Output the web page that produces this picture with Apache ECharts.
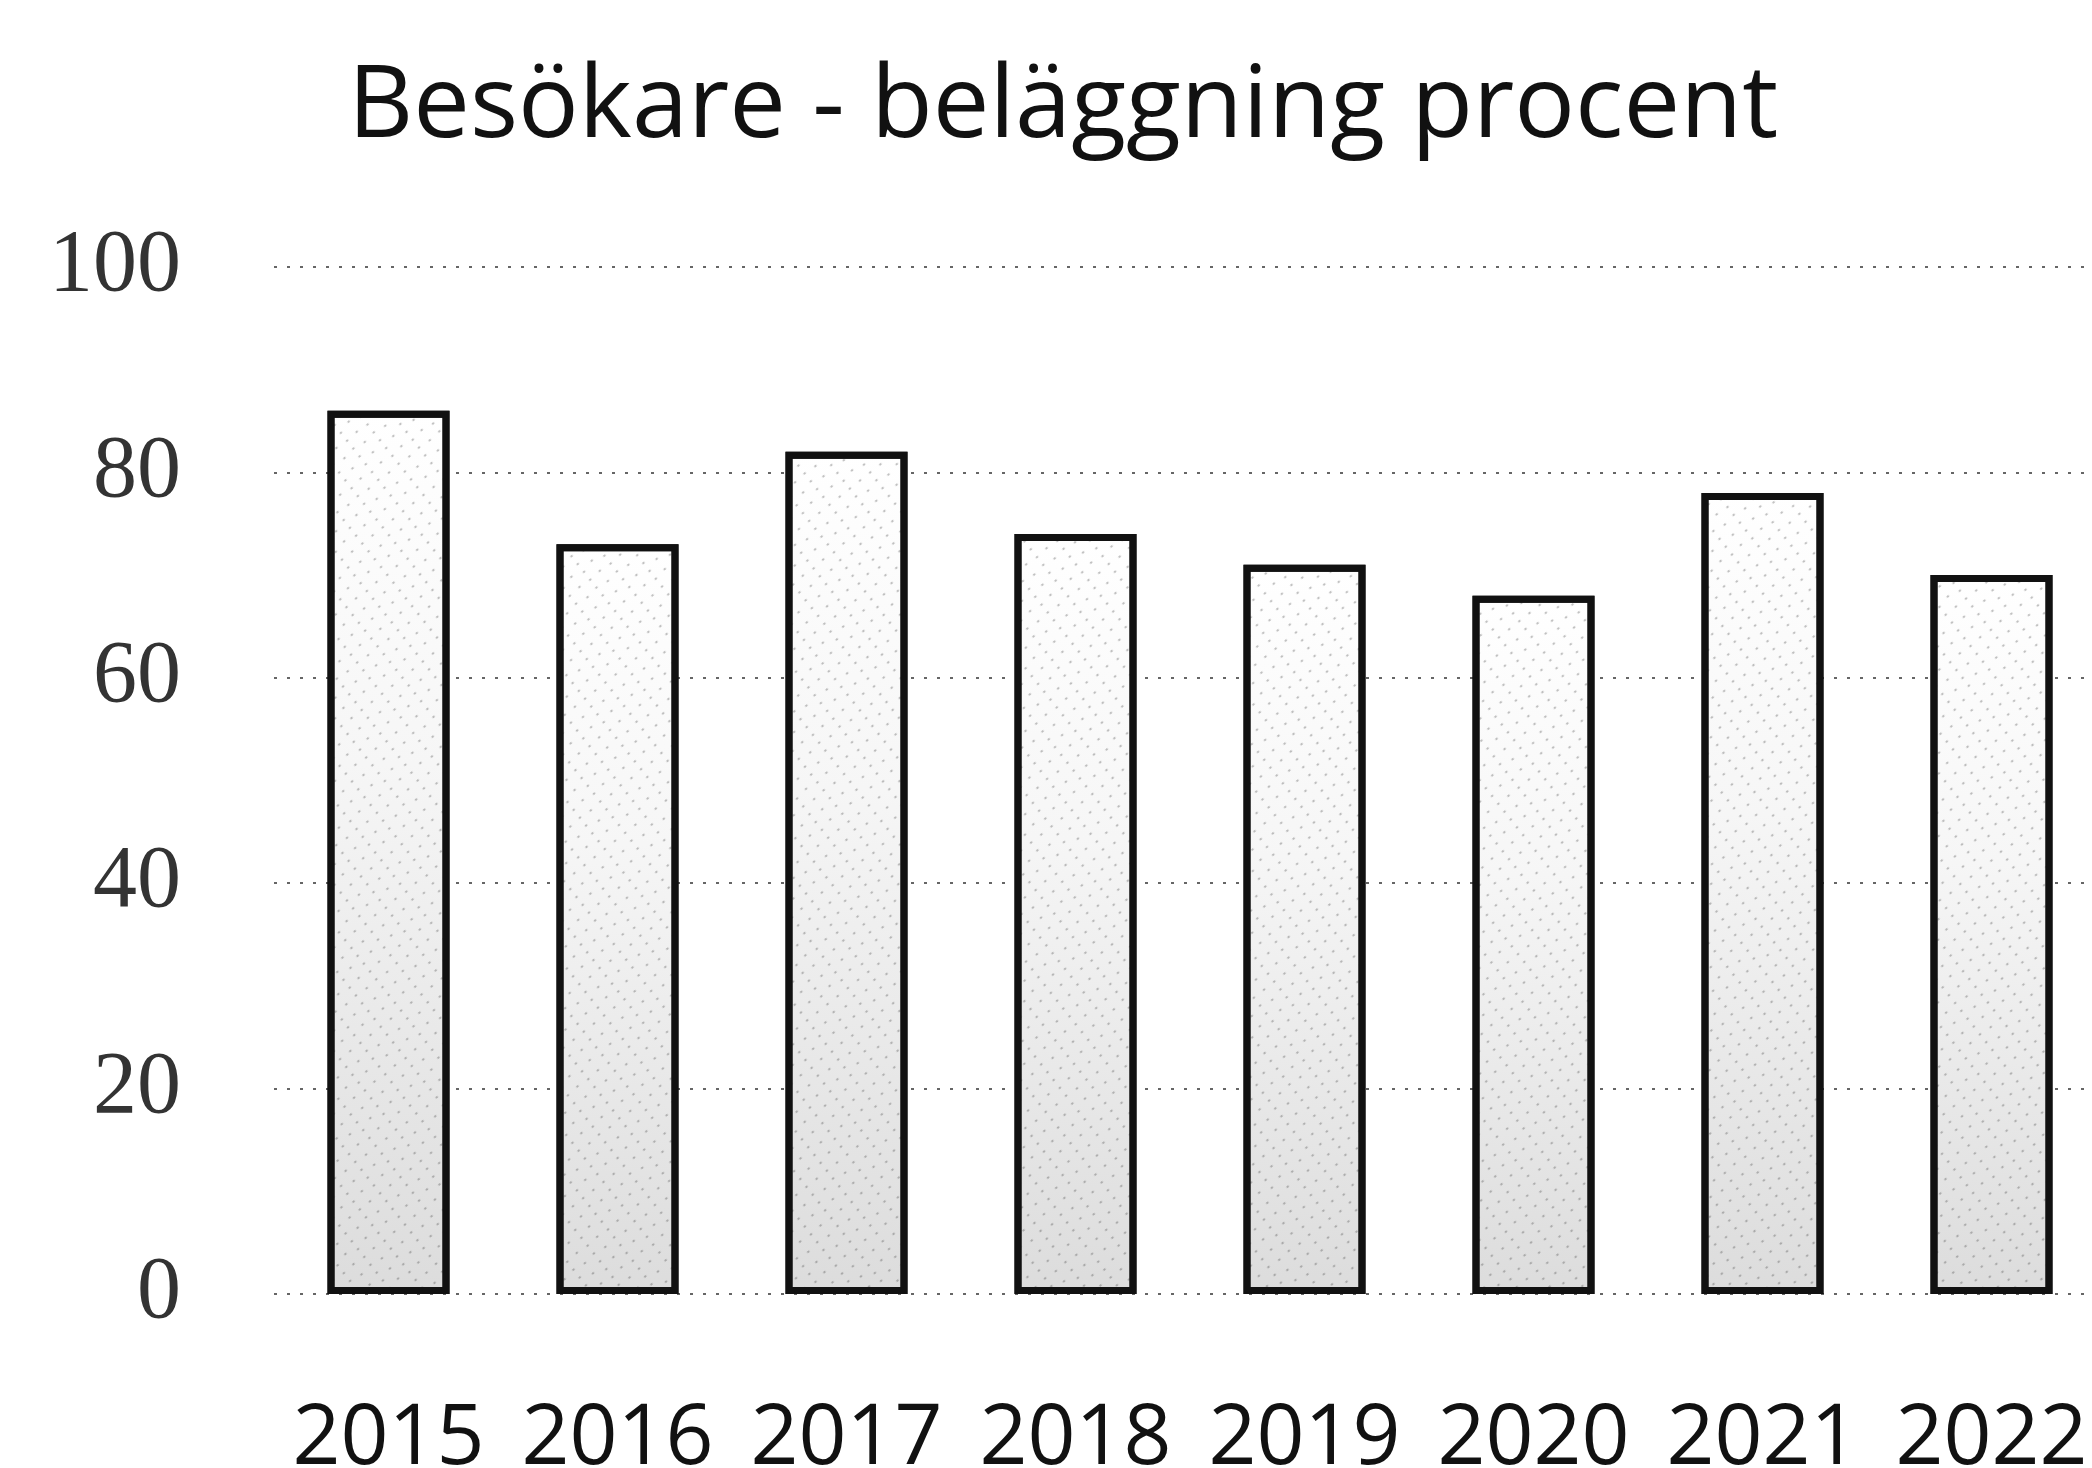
<!DOCTYPE html>
<html>
<head>
<meta charset="utf-8">
<script src="https://cdn.jsdelivr.net/npm/echarts@6/dist/echarts.min.js"></script>
<style>
html,body{margin:0;padding:0;background:#fff}
#chart{width:2092px;height:1468px}
</style>
</head>
<body>
<div id="chart"></div>
<script>
// data
var years = ['2015','2016','2017','2018','2019','2020','2021','2022'];
var occupancy = [86, 73, 82, 74, 71, 68, 78, 70];
var yTicks = [0, 20, 40, 60, 80, 100];

var myChart = echarts.init(document.getElementById('chart'));

var option = {
    backgroundColor: '#fff',
    animation: false,
    title: {
        text: 'Besökare - beläggning procent',
        left: 343,
        top: 53,
        textStyle: {
            fontFamily: 'Open Sans',
            fontSize: 101,
            fontWeight: 'normal',
            color: '#111'
        }
    },
    grid: {
        left: 274,
        top: 267,
        width: 1832,
        bottom: 174,
        outerBoundsMode: 'none',
        containLabel: false
    },
    xAxis: {
        type: 'category',
        data: years,
        axisLine: {show: false},
        axisTick: {show: false},
        axisLabel: {
            interval: 0,
            margin: 104,
            fontFamily: 'Open Sans',
            fontSize: 84,
            color: '#111'
        }
    },
    yAxis: {
        type: 'value',
        min: yTicks[0],
        max: yTicks[yTicks.length - 1],
        interval: 20,
        axisLine: {show: false},
        axisTick: {show: false},
        axisLabel: {
            margin: 93,
            fontFamily: 'Liberation Serif',
            fontSize: 88,
            color: '#333'
        },
        splitLine: {
            show: true,
            lineStyle: {color: '#666', width: 2, type: [3, 10]}
        }
    },
    series: [
        {
            name: 'beläggning',
            type: 'bar',
            barWidth: 122,
            data: occupancy,
            itemStyle: {
                color: {
                    type: 'linear', x: 0, y: 0, x2: 0, y2: 1,
                    colorStops: [
                        {offset: 0, color: '#ffffff'},
                        {offset: 0.4, color: '#f6f6f6'},
                        {offset: 1, color: '#dcdcdc'}
                    ]
                },
                borderColor: '#111',
                borderWidth: 7,
                decal: {
                    symbol: 'rect',
                    symbolSize: 0.6,
                    color: 'rgba(30,30,30,0.45)',
                    dashArrayX: [[2, 11], [2, 8]],
                    dashArrayY: [4, 9],
                    rotation: 0.9
                }
            }
        }
    ]
};
if (option && typeof option === "object") {
    myChart.setOption(option, true);
}
</script>
</body>
</html>
